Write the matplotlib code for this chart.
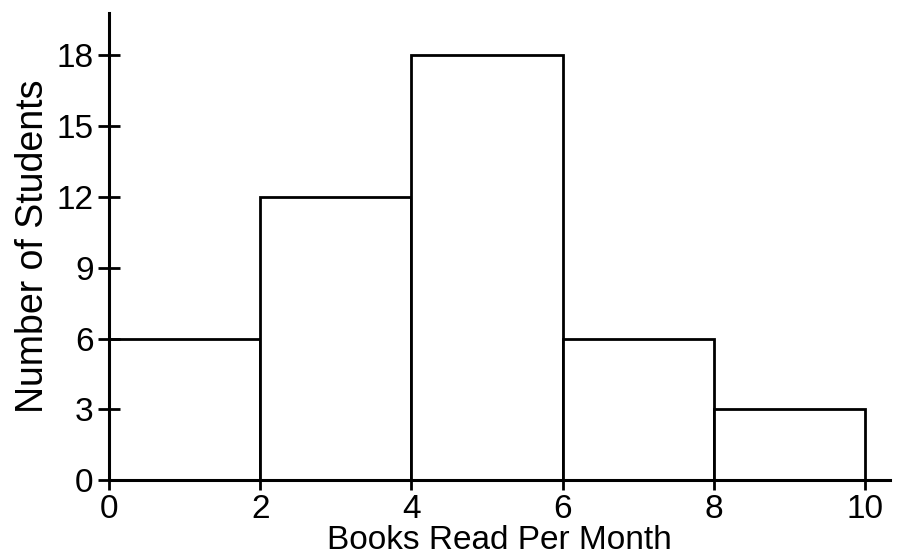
import matplotlib
matplotlib.use("Agg")
import matplotlib.pyplot as plt

# ============================================
# DATA
# ============================================

bin_edges = [0, 2, 4, 6, 8, 10]
counts = [6, 12, 18, 6, 3]

x_ticks = [0, 2, 4, 6, 8, 10]
y_ticks = [0, 3, 6, 9, 12, 15, 18]

x_label = "Books Read Per Month"
y_label = "Number of Students"

# ============================================
# PLOT
# ============================================

plt.rcParams["font.family"] = ["Liberation Sans", "DejaVu Sans"]

fig = plt.figure(figsize=(9.05, 5.59), dpi=100)
ax = fig.add_axes([0.1204, 0.1413, 0.8630, 0.8354])

widths = [bin_edges[i + 1] - bin_edges[i] for i in range(len(counts))]
ax.bar(
    bin_edges[:-1],
    counts,
    width=widths,
    align="edge",
    color="white",
    edgecolor="black",
    linewidth=2,
    zorder=1,
)

ax.set_xlim(0, 10.33)
ax.set_ylim(0, 19.8)

ax.spines["top"].set_visible(False)
ax.spines["right"].set_visible(False)
ax.spines["left"].set_linewidth(2.2)
ax.spines["bottom"].set_linewidth(2.2)

ax.set_xticks(x_ticks)
ax.set_yticks(y_ticks)
ax.set_axisbelow(False)

ax.tick_params(axis="x", direction="out", length=7, width=2, labelsize=24, pad=3)
ax.tick_params(axis="y", direction="inout", length=16, width=2, labelsize=24, pad=3)

ax.set_xlabel(x_label, fontsize=24, labelpad=0)
ax.set_ylabel(y_label, fontsize=27, labelpad=4)

plt.savefig("out.png", dpi=100)
plt.close()
